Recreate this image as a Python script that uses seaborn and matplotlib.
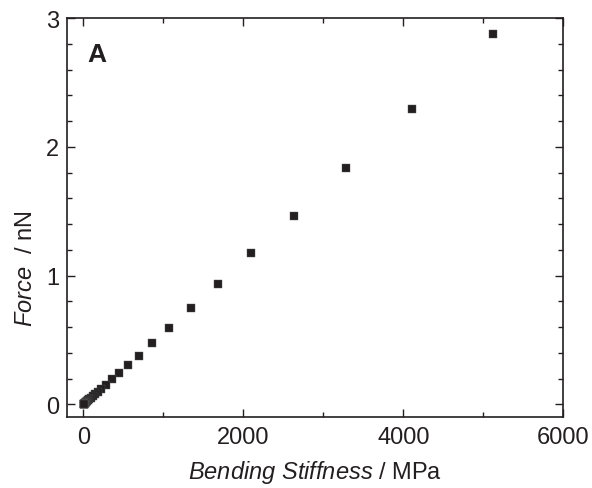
import matplotlib
matplotlib.use("Agg")
import matplotlib.pyplot as plt
from matplotlib.ticker import MultipleLocator
import seaborn as sns
import pandas as pd

# Data
stiffness_mpa = [5125, 4104, 3279, 2629, 2100, 1684, 1346, 1075, 862, 691,
                 558, 450, 358, 283, 226, 181, 145, 116, 93, 74, 59, 47,
                 38, 30, 24, 19, 15, 12, 10, 8, 6, 5, 4, 3]
force_nn = [2.873, 2.297, 1.836, 1.466, 1.173, 0.938, 0.748, 0.596, 0.476,
            0.375, 0.303, 0.243, 0.194, 0.153, 0.123, 0.098, 0.079, 0.063,
            0.050, 0.040, 0.032, 0.026, 0.021, 0.017, 0.013, 0.011, 0.009,
            0.007, 0.006, 0.004, 0.003, 0.003, 0.002, 0.002]
x_ticks = [0, 2000, 4000, 6000]
y_ticks = [0, 1, 2, 3]
panel_label = "A"

df = pd.DataFrame({"stiffness": stiffness_mpa, "force": force_nn})

sns.set_style("ticks")
plt.rcParams["font.family"] = ["Liberation Sans", "DejaVu Sans"]
plt.rcParams["mathtext.fontset"] = "custom"
plt.rcParams["mathtext.rm"] = "Liberation Sans"
plt.rcParams["mathtext.it"] = "Liberation Sans:italic"

ink = "#231f20"
fig = plt.figure(figsize=(5.92, 4.89), dpi=100)
ax = fig.add_axes([0.1137, 0.1446, 0.8378, 0.8165])

sns.scatterplot(data=df, x="stiffness", y="force", ax=ax, marker="s",
                s=34, color=ink, edgecolor="#555555", linewidth=0.3,
                legend=False, zorder=3)

ax.set_xlim(-200, 6000)
ax.set_ylim(-0.1, 3.0)
ax.set_xticks(x_ticks)
ax.set_yticks(y_ticks)
ax.xaxis.set_minor_locator(MultipleLocator(1000))
ax.yaxis.set_minor_locator(MultipleLocator(0.2))

for side in ["left", "right", "top", "bottom"]:
    ax.spines[side].set_visible(True)
    ax.spines[side].set_linewidth(1.2)
    ax.spines[side].set_color(ink)

ax.tick_params(which="both", direction="in", top=True, right=True,
               color=ink, width=1.0)
ax.tick_params(which="major", length=6, labelsize=17, pad=6,
               labelcolor=ink)
ax.tick_params(which="minor", length=3.5)

ax.set_xlabel(r"$\mathit{Bending\ Stiffness}$ / MPa", fontsize=17, color=ink)
ax.set_ylabel(r"$\mathit{Force}$  / nN", fontsize=17, color=ink)
ax.xaxis.set_label_coords(0.5, -0.102)
ax.yaxis.set_label_coords(-0.061, 0.376)

ax.text(0.04, 0.94, panel_label, transform=ax.transAxes, fontsize=19,
        fontweight="bold", color=ink, ha="left", va="top")

fig.savefig("out.png", dpi=100)
